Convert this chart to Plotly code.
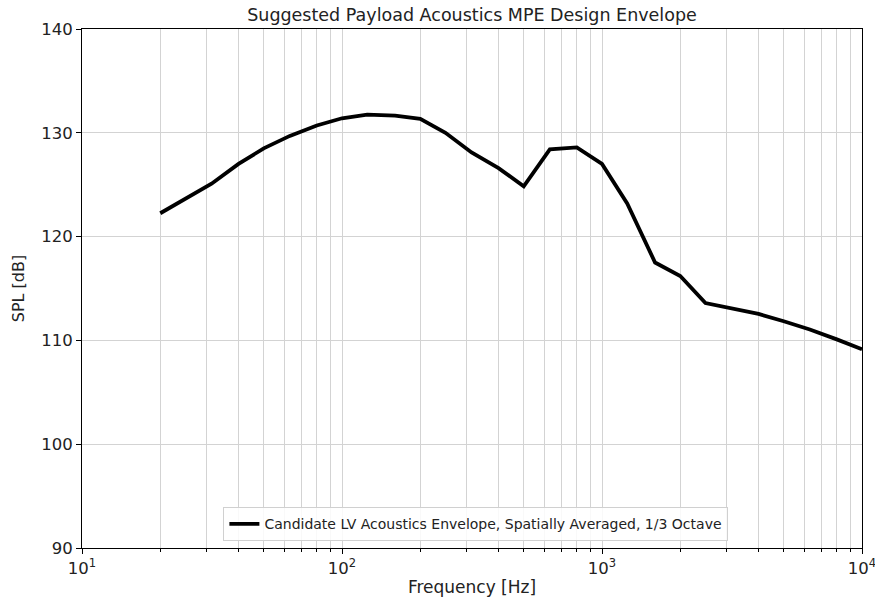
import plotly.graph_objects as go

freq_hz = [20, 25, 31.5, 40, 50, 63, 80, 100, 125, 160, 200, 250, 315, 400, 500,
           630, 800, 1000, 1250, 1600, 2000, 2500, 3150, 4000, 5000, 6300, 8000, 10000]
spl_db = [122.25, 123.6, 125.1, 127.0, 128.5, 129.7, 130.7, 131.4, 131.75, 131.65, 131.35,
          130.0, 128.1, 126.6, 124.85, 128.4, 128.6, 127.0, 123.2, 117.5, 116.2, 113.6,
          113.1, 112.55, 111.85, 111.05, 110.1, 109.15]

x_tickvals = [10, 100, 1000, 10000]
x_ticktext = ["10<sup>1</sup>", "10<sup>2</sup>", "10<sup>3</sup>", "10<sup>4</sup>"]
y_tickvals = [90, 100, 110, 120, 130, 140]

legend_name = "Candidate LV Acoustics Envelope, Spatially Averaged, 1/3 Octave"

font_family = "DejaVu Sans"

fig = go.Figure()
fig.add_trace(go.Scatter(
    x=freq_hz, y=spl_db, mode="lines", name=legend_name,
    line=dict(color="black", width=3.8),
))

fig.update_layout(
    width=875, height=606,
    margin=dict(l=82, r=13, t=29, b=58, autoexpand=False),
    paper_bgcolor="white", plot_bgcolor="white",
    font=dict(family=font_family, size=16.5, color="#222"),
    title=dict(text="Suggested Payload Acoustics MPE Design Envelope",
               x=(82 + 862) / 2 / 875, xanchor="center",
               y=1 - 15 / 606, yanchor="middle", yref="container",
               font=dict(size=17.5, color="#222")),
    showlegend=True,
    legend=dict(x=0.505, y=0.013, xanchor="center", yanchor="bottom",
                bgcolor="rgba(255,255,255,0.85)", bordercolor="#d0d0d0", borderwidth=1,
                font=dict(size=14, color="#222"), itemwidth=30,
                tracegroupgap=0),
)

fig.update_xaxes(
    type="log", range=[1, 4], automargin=False,
    tickvals=x_tickvals, ticktext=x_ticktext,
    ticks="outside", ticklen=5, tickcolor="black",
    ticklabeloverflow="allow",
    showline=True, linecolor="black", linewidth=1, mirror=True,
    showgrid=True, gridcolor="#d3d3d3", gridwidth=1,
    minor=dict(dtick="D1", ticks="outside", ticklen=3, tickcolor="black",
               showgrid=True, gridcolor="#d3d3d3", gridwidth=1),
    title=dict(text="Frequency [Hz]", standoff=4, font=dict(size=17)),
    tickfont=dict(size=16.5),
    zeroline=False,
)
fig.update_yaxes(
    range=[90, 140], automargin=False,
    tickvals=y_tickvals,
    ticks="outside", ticklen=5, tickcolor="black",
    showline=True, linecolor="black", linewidth=1, mirror=True,
    showgrid=True, gridcolor="#d3d3d3", gridwidth=1,
    title=dict(text="SPL [dB]", standoff=12, font=dict(size=16)),
    tickfont=dict(size=16.5),
    zeroline=False,
)

fig.write_html(
    "out.html",
    config={"displayModeBar": False},
    post_script="document.body.style.margin='0';document.body.style.overflow='hidden';",
)
